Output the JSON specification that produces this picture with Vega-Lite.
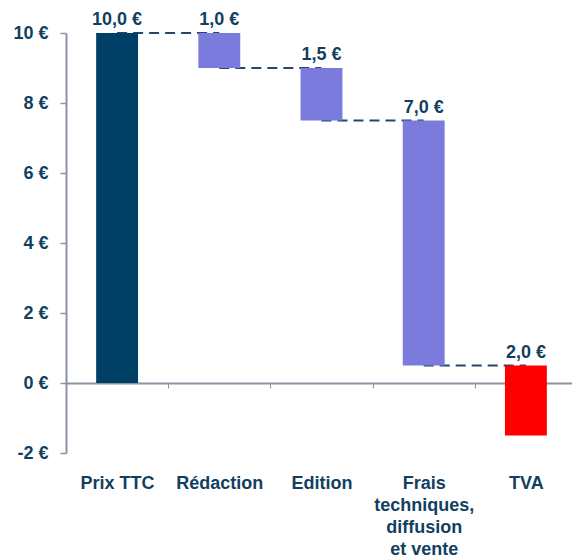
{
  "$schema": "https://vega.github.io/schema/vega-lite/v6.json",
  "width": 511,
  "height": 420,
  "autosize": {"type": "none"},
  "padding": {"left": 66, "top": 33, "right": 0, "bottom": 104},
  "background": "white",
  "config": {
    "view": {"stroke": null},
    "font": "Liberation Sans"
  },
  "data": {
    "values": [
      {"cat": "Prix TTC", "start": 0, "end": 10, "label": "10,0 €", "kind": "total", "next": "Rédaction", "level": 10},
      {"cat": "Rédaction", "start": 9, "end": 10, "label": "1,0 €", "kind": "part", "next": "Edition", "level": 9},
      {"cat": "Edition", "start": 7.5, "end": 9, "label": "1,5 €", "kind": "part", "next": "Frais techniques, diffusion et vente", "level": 7.5},
      {"cat": "Frais techniques, diffusion et vente", "start": 0.5, "end": 7.5, "label": "7,0 €", "kind": "part", "next": "TVA", "level": 0.5},
      {"cat": "TVA", "start": -1.5, "end": 0.5, "label": "2,0 €", "kind": "tax", "next": null, "level": null}
    ]
  },
  "encoding": {
    "x": {
      "field": "cat",
      "type": "nominal",
      "sort": null,
      "scale": {"paddingInner": 0, "paddingOuter": 0},
      "axis": {
        "title": null,
        "orient": "bottom",
        "offset": -70,
        "domainColor": "#8A94A2",
        "domainWidth": 2,
        "ticks": true,
        "tickBand": "extent",
        "tickSize": 5,
        "tickColor": "#8A94A2",
        "tickWidth": 1,
        "labelAngle": 0,
        "labelPadding": 86,
        "labelFont": "Liberation Sans",
        "labelFontWeight": "bold",
        "labelFontSize": 18,
        "labelColor": "#123F5F",
        "labelLineHeight": 22,
        "labelBaseline": "top",
        "labelExpr": "datum.label == 'Frais techniques, diffusion et vente' ? ['Frais', 'techniques,', 'diffusion', 'et vente'] : datum.label"
      }
    }
  },
  "layer": [
    {
      "transform": [{"filter": "datum.next != null"}],
      "mark": {"type": "rule", "strokeDash": [10, 6], "strokeWidth": 2, "color": "#1F4A6E"},
      "encoding": {
        "x2": {"field": "next"},
        "y": {"field": "level", "type": "quantitative"}
      }
    },
    {
      "mark": {"type": "bar", "width": {"band": 0.41}},
      "encoding": {
        "y": {
          "field": "start",
          "type": "quantitative",
          "scale": {"domain": [-2, 10], "nice": false, "zero": false},
          "axis": {
            "title": null,
            "values": [-2, 0, 2, 4, 6, 8, 10],
            "grid": false,
            "domainColor": "#8A94A2",
            "domainWidth": 2,
            "tickColor": "#8A94A2",
            "tickSize": 6,
            "tickWidth": 1.5,
            "labelPadding": 12,
            "labelFont": "Liberation Sans",
            "labelFontWeight": "bold",
            "labelFontSize": 18,
            "labelColor": "#123F5F",
            "labelExpr": "datum.value + ' €'"
          }
        },
        "y2": {"field": "end"},
        "color": {
          "field": "kind",
          "type": "nominal",
          "scale": {"domain": ["total", "part", "tax"], "range": ["#004066", "#7B7BDE", "#FF0000"]},
          "legend": null
        }
      }
    },
    {
      "mark": {"type": "text", "dy": -8, "baseline": "alphabetic", "font": "Liberation Sans", "fontWeight": "bold", "fontSize": 18, "color": "#123F5F"},
      "encoding": {
        "y": {"field": "end", "type": "quantitative"},
        "text": {"field": "label"}
      }
    }
  ]
}
